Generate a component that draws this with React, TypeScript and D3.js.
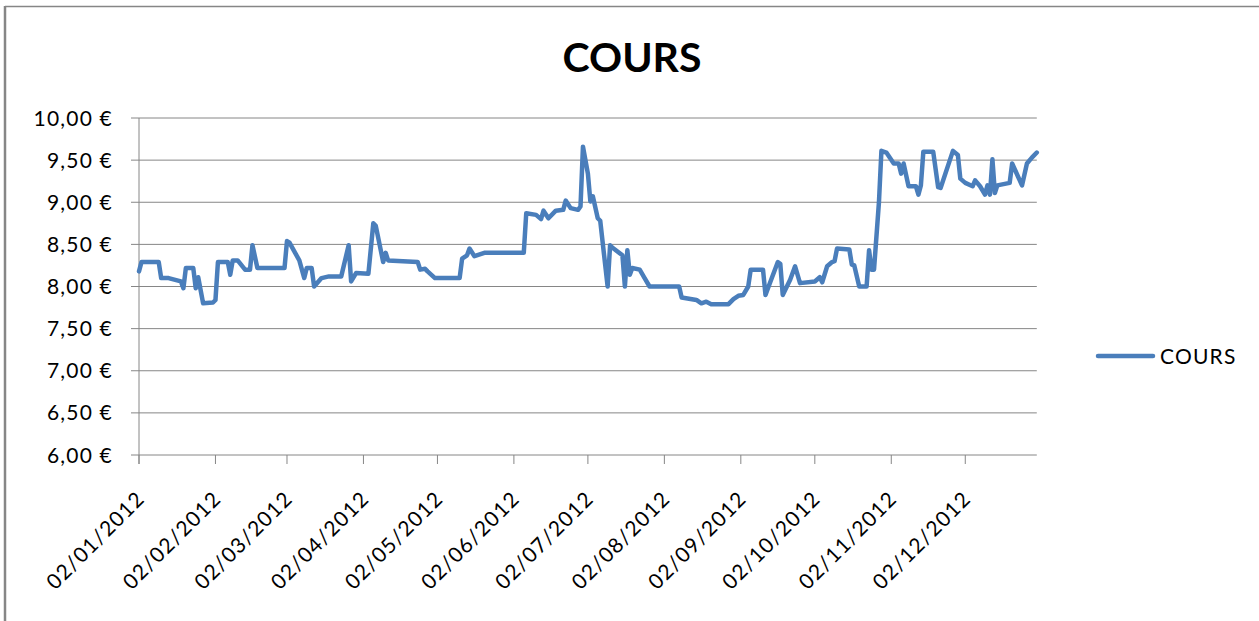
import React from 'react';
import * as d3 from 'd3';

const TITLE = 'COURS';
const SERIES_NAME = 'COURS';

const DATES = [
  '2012-01-02', '2012-01-03', '2012-01-10', '2012-01-11', '2012-01-14', '2012-01-19', '2012-01-20', '2012-01-21',
  '2012-01-24', '2012-01-25', '2012-01-26', '2012-01-28', '2012-02-01', '2012-02-02', '2012-02-03', '2012-02-07',
  '2012-02-08', '2012-02-09', '2012-02-11', '2012-02-14', '2012-02-16', '2012-02-17', '2012-02-19', '2012-03-01',
  '2012-03-02', '2012-03-03', '2012-03-07', '2012-03-09', '2012-03-10', '2012-03-12', '2012-03-13', '2012-03-16',
  '2012-03-19', '2012-03-24', '2012-03-27', '2012-03-28', '2012-03-30', '2012-04-04', '2012-04-06', '2012-04-07',
  '2012-04-10', '2012-04-11', '2012-04-12', '2012-04-18', '2012-04-24', '2012-04-25', '2012-04-27', '2012-04-28',
  '2012-05-01', '2012-05-11', '2012-05-12', '2012-05-14', '2012-05-15', '2012-05-17', '2012-05-21', '2012-06-06',
  '2012-06-07', '2012-06-11', '2012-06-13', '2012-06-14', '2012-06-16', '2012-06-19', '2012-06-22', '2012-06-23',
  '2012-06-25', '2012-06-28', '2012-06-29', '2012-06-30', '2012-07-02', '2012-07-03', '2012-07-04', '2012-07-06',
  '2012-07-07', '2012-07-10', '2012-07-11', '2012-07-12', '2012-07-16', '2012-07-17', '2012-07-18', '2012-07-19',
  '2012-07-20', '2012-07-23', '2012-07-25', '2012-07-27', '2012-08-08', '2012-08-09', '2012-08-15', '2012-08-17',
  '2012-08-19', '2012-08-21', '2012-08-28', '2012-08-30', '2012-09-01', '2012-09-03', '2012-09-05', '2012-09-06',
  '2012-09-11', '2012-09-12', '2012-09-13', '2012-09-17', '2012-09-18', '2012-09-19', '2012-09-22', '2012-09-24',
  '2012-09-26', '2012-10-02', '2012-10-04', '2012-10-05', '2012-10-07', '2012-10-09', '2012-10-10', '2012-10-11',
  '2012-10-16', '2012-10-17', '2012-10-18', '2012-10-20', '2012-10-23', '2012-10-24', '2012-10-25', '2012-10-26',
  '2012-10-28', '2012-10-29', '2012-10-31', '2012-11-03', '2012-11-05', '2012-11-06', '2012-11-07', '2012-11-09',
  '2012-11-12', '2012-11-13', '2012-11-14', '2012-11-15', '2012-11-19', '2012-11-21', '2012-11-22', '2012-11-27',
  '2012-11-29', '2012-11-30', '2012-12-02', '2012-12-05', '2012-12-06', '2012-12-08', '2012-12-10', '2012-12-11',
  '2012-12-12', '2012-12-13', '2012-12-14', '2012-12-15', '2012-12-20', '2012-12-21', '2012-12-25', '2012-12-27',
  '2012-12-29', '2012-12-31',
];

const VALUES = [
  8.18, 8.29, 8.29, 8.10, 8.10, 8.06, 7.98, 8.22,
  8.22, 7.98, 8.11, 7.80, 7.81, 7.84, 8.29, 8.29,
  8.14, 8.31, 8.31, 8.20, 8.20, 8.49, 8.22, 8.22,
  8.54, 8.52, 8.31, 8.10, 8.22, 8.22, 8.00, 8.10,
  8.12, 8.12, 8.49, 8.06, 8.16, 8.15, 8.75, 8.72,
  8.29, 8.40, 8.31, 8.30, 8.29, 8.20, 8.21, 8.18,
  8.10, 8.10, 8.33, 8.37, 8.45, 8.36, 8.40, 8.40,
  8.87, 8.85, 8.80, 8.90, 8.81, 8.90, 8.91, 9.02,
  8.93, 8.91, 8.95, 9.66, 9.34, 9.01, 9.07, 8.81,
  8.78, 8.00, 8.49, 8.46, 8.37, 8.00, 8.43, 8.14,
  8.22, 8.20, 8.10, 8.00, 8.00, 7.87, 7.84, 7.80,
  7.82, 7.79, 7.79, 7.85, 7.89, 7.90, 8.00, 8.20,
  8.20, 7.90, 7.98, 8.29, 8.27, 7.90, 8.08, 8.24,
  8.04, 8.06, 8.11, 8.05, 8.24, 8.29, 8.30, 8.45,
  8.44, 8.26, 8.25, 8.00, 8.00, 8.43, 8.20, 8.20,
  9.00, 9.61, 9.59, 9.46, 9.46, 9.34, 9.46, 9.19,
  9.19, 9.09, 9.20, 9.60, 9.60, 9.18, 9.17, 9.61,
  9.56, 9.28, 9.23, 9.19, 9.26, 9.19, 9.09, 9.20,
  9.09, 9.51, 9.11, 9.20, 9.23, 9.46, 9.20, 9.46,
  9.53, 9.59,
];

const Y_TICKS = [6, 6.5, 7, 7.5, 8, 8.5, 9, 9.5, 10];
const X_TICKS = [
  '2012-01-02', '2012-02-02', '2012-03-02', '2012-04-02', '2012-05-02', '2012-06-02',
  '2012-07-02', '2012-08-02', '2012-09-02', '2012-10-02', '2012-11-02', '2012-12-02',
];
const X_DOMAIN = ['2012-01-02', '2012-12-31'];

const W = 1259;
const H = 621;
const LEFT = 139;
const RIGHT = 1036.8;
const TOP = 118;
const BOTTOM = 455;
const GRID = '#868686';
const BLUE = '#4A7EBB';
const FONT = 'Lato, "Open Sans", sans-serif';

export default function App() {
  const parse = d3.timeParse('%Y-%m-%d');
  const x = d3
    .scaleTime()
    .domain(X_DOMAIN.map((s) => parse(s) as Date))
    .range([LEFT, RIGHT]);
  const y = d3.scaleLinear().domain([6, 10]).range([BOTTOM, TOP]);

  const locale = d3.formatLocale({
    decimal: ',',
    thousands: ' ',
    grouping: [3],
    currency: ['', ' €'],
  });
  const fmtY = locale.format('$.2f');
  const fmtX = d3.timeFormat('%d/%m/%Y');

  const data = DATES.map((d, i) => ({ date: parse(d) as Date, value: VALUES[i] }));
  const line = d3
    .line<{ date: Date; value: number }>()
    .x((d) => x(d.date))
    .y((d) => y(d.value));

  const xTicks = X_TICKS.map((s) => parse(s) as Date);

  return (
    <svg
      width={W}
      height={H}
      style={{ position: 'absolute', left: 0, top: 0, background: '#fff' }}
      fontFamily={FONT}
    >
      <rect x={0} y={0} width={W} height={H} fill="#fff" />
      {/* chart frame */}
      <line x1={5} y1={6.5} x2={W} y2={6.5} stroke={GRID} strokeWidth={1.5} />
      <line x1={5} y1={6} x2={5} y2={H} stroke={GRID} strokeWidth={2.5} />

      {/* title */}
      <text x={632} y={72} textAnchor="middle" fontSize={41} fontWeight="bold" fill="#000">
        {TITLE}
      </text>

      {/* gridlines + y ticks */}
      {Y_TICKS.map((v) => (
        <g key={v}>
          <line x1={LEFT - 8} x2={RIGHT} y1={y(v)} y2={y(v)} stroke={GRID} strokeWidth={1} />
          <text
            x={113}
            y={y(v)}
            dy="0.36em"
            textAnchor="end"
            fontSize={21}
            letterSpacing={1.2}
            fill="#000"
          >
            {fmtY(v)}
          </text>
        </g>
      ))}

      {/* y axis line */}
      <line x1={LEFT} x2={LEFT} y1={TOP} y2={BOTTOM + 9} stroke={GRID} strokeWidth={1} />

      {/* x ticks & labels */}
      {xTicks.map((d, i) => (
        <g key={i}>
          <line x1={x(d)} x2={x(d)} y1={BOTTOM} y2={BOTTOM + 9} stroke={GRID} strokeWidth={1} />
          <text
            transform={`translate(${x(d) + 7},${BOTTOM + 45}) rotate(-45)`}
            textAnchor="end"
            fontSize={21}
            letterSpacing={1.2}
            fill="#000"
          >
            {fmtX(d)}
          </text>
        </g>
      ))}

      {/* data line */}
      <path
        d={line(data) ?? ''}
        fill="none"
        stroke={BLUE}
        strokeWidth={4.5}
        strokeLinejoin="round"
        strokeLinecap="round"
      />

      {/* legend */}
      <line x1={1098} x2={1153} y1={356} y2={356} stroke={BLUE} strokeWidth={4.5} strokeLinecap="round" />
      <text x={1160} y={356} dy="0.36em" fontSize={21} letterSpacing={1.2} fill="#000">
        {SERIES_NAME}
      </text>
    </svg>
  );
}
